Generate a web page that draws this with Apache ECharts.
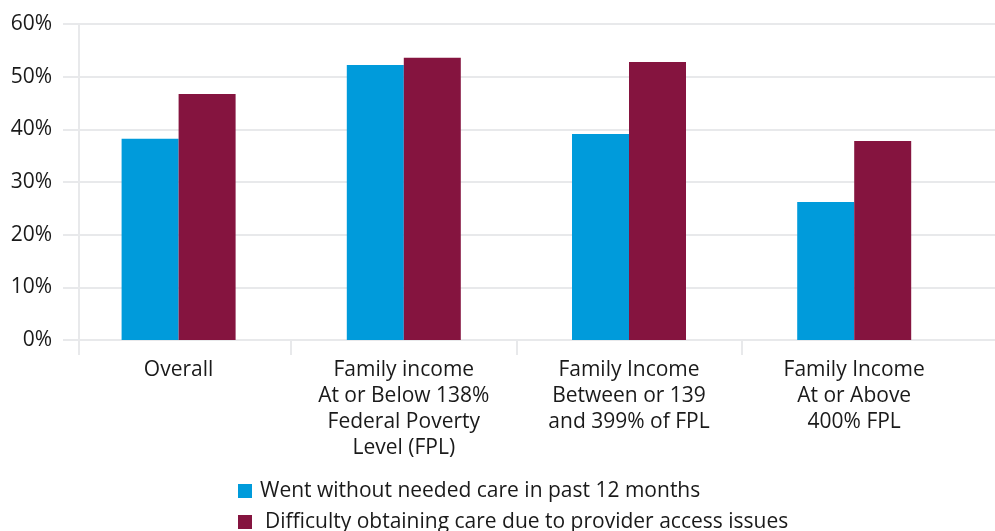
<!DOCTYPE html>
<html>
<head>
<meta charset="utf-8">
<script src="https://cdn.jsdelivr.net/npm/echarts@6/dist/echarts.min.js"></script>
<style>
html,body{margin:0;padding:0;background:#fff;}
#chart{width:995px;height:531px;}
</style>
</head>
<body>
<div id="chart"></div>
<script>
const categories = [
  "Overall",
  "Family income\nAt or Below 138%\nFederal Poverty\nLevel (FPL)",
  "Family Income\nBetween or 139\nand 399% of FPL",
  "Family Income\nAt or Above\n400% FPL"
];
const seriesNames = [
  "Went without needed care in past 12 months",
  "Difficulty obtaining care due to provider access issues"
];
const wentWithout = [38.2, 52.2, 39.1, 26.2];
const difficulty = [46.7, 53.6, 52.8, 37.8];
const yTicks = [0, 10, 20, 30, 40, 50, 60];

const FONT = "Open Sans";
const TXT = "#1a1a1a";
const GRIDC = "#e8e9eb";
const BLUE = "#009bdb";
const MAROON = "#85143f";

// a trailing empty band keeps the last boundary tick off the canvas
const bandCategories = categories.concat([""]);

const chart = echarts.init(document.getElementById('chart'), null, {renderer: 'canvas'});
chart.setOption({
  animation: false,
  backgroundColor: '#ffffff',
  textStyle: {fontFamily: FONT},
  grid: [
    {left: 79, width: 922, top: 24, bottom: 191, outerBoundsMode: 'none', containLabel: false},
    {left: 66, width: 1126, top: 24, bottom: 191, outerBoundsMode: 'none', containLabel: false}
  ],
  legend: [
    {
      left: 238, top: 479, padding: 0,
      itemWidth: 14, itemHeight: 14, icon: 'rect',
      textStyle: {fontFamily: FONT, fontSize: 21, lineHeight: 24, color: TXT, padding: [0, 0, 0, 3]},
      data: [seriesNames[0]]
    },
    {
      left: 238, top: 510, padding: 0,
      itemWidth: 14, itemHeight: 14, icon: 'rect',
      textStyle: {fontFamily: FONT, fontSize: 21, lineHeight: 24, color: TXT, padding: [0, 0, 0, 8]},
      data: [seriesNames[1]]
    }
  ],
  xAxis: [
    {
      type: 'category', gridIndex: 0, data: [""], boundaryGap: true,
      axisLine: {show: false},
      axisLabel: {show: false},
      axisTick: {show: true, length: 15, lineStyle: {color: GRIDC, width: 2}}
    },
    {
      type: 'category', gridIndex: 1, data: bandCategories,
      axisLine: {show: false},
      axisTick: {
        show: true, length: 15, lineStyle: {color: GRIDC, width: 2},
        interval: function (idx) { return idx >= 1 && idx <= 3; }
      },
      axisLabel: {interval: 0, margin: 17, fontFamily: FONT, fontSize: 21, lineHeight: 26, color: TXT, align: 'center'}
    }
  ],
  yAxis: [
    {
      type: 'value', gridIndex: 0, min: yTicks[0], max: yTicks[yTicks.length - 1], interval: 10,
      axisLine: {show: true, lineStyle: {color: GRIDC, width: 2}},
      axisTick: {show: true, length: 16, lineStyle: {color: GRIDC, width: 2}},
      axisLabel: {formatter: '{value}%', fontFamily: FONT, fontSize: 21, color: TXT, margin: 27},
      splitLine: {show: true, lineStyle: {color: GRIDC, width: 2}}
    },
    {type: 'value', gridIndex: 1, min: yTicks[0], max: yTicks[yTicks.length - 1], show: false, splitLine: {show: false}}
  ],
  series: [
    {name: seriesNames[0], type: 'bar', xAxisIndex: 1, yAxisIndex: 1, data: wentWithout, barWidth: 57, barGap: '0%', itemStyle: {color: BLUE}},
    {name: seriesNames[1], type: 'bar', xAxisIndex: 1, yAxisIndex: 1, data: difficulty, barWidth: 57, barGap: '0%', itemStyle: {color: MAROON}}
  ]
});
</script>
</body>
</html>
